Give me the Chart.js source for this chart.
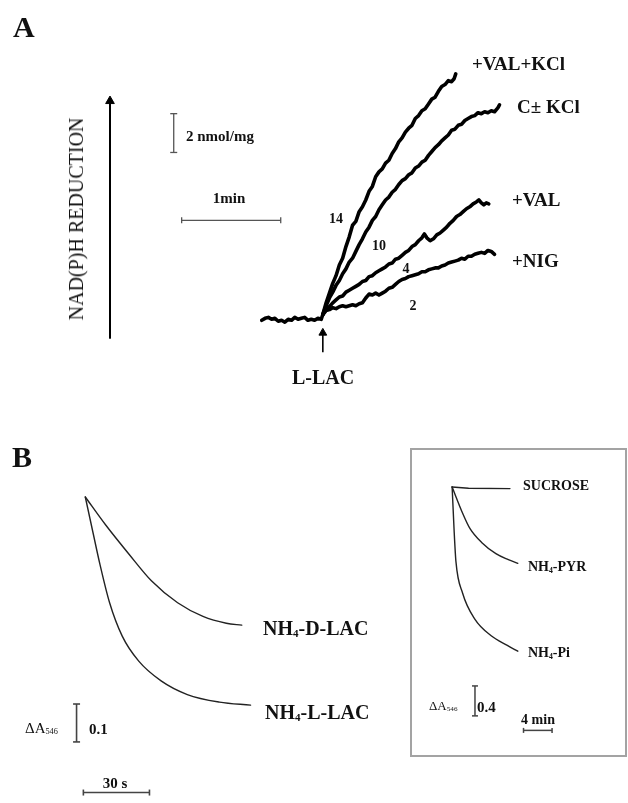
<!DOCTYPE html>
<html><head><meta charset="utf-8">
<script src="https://cdn.jsdelivr.net/npm/chart.js@4.4.1/dist/chart.umd.min.js"></script>
<style>
html,body{margin:0;padding:0;background:#fff;}
#wrap{position:relative;width:628px;height:803px;overflow:hidden;background:#fff;}
canvas{position:absolute;}
.l{position:absolute;font-family:"Liberation Serif","Times New Roman",serif;white-space:nowrap;line-height:1;color:#111;}
.b{font-weight:bold;}
.c{transform:translate(-50%,-50%);}
.m{transform:translateY(-50%);}
sub{font-size:0.55em;vertical-align:-0.2em;line-height:0;}
#box{position:absolute;left:410px;top:448px;width:213px;height:305px;border:2px solid #a3a3a3;}
</style></head><body><div id="wrap">
<div id="box"></div>
<canvas id="cA" width="628" height="400" style="left:0;top:0"></canvas>
<canvas id="cB" width="400" height="403" style="left:0;top:400px"></canvas>
<canvas id="cI" width="228" height="320" style="left:400px;top:440px"></canvas>

<!-- Panel A text -->
<div class="l b m" style="left:13px;top:27px;font-size:30px">A</div>
<div class="l" style="left:76px;top:219px;font-size:20px;transform:translate(-50%,-50%) rotate(-90deg)">NAD(P)H REDUCTION</div>
<div class="l b m" style="left:186px;top:136px;font-size:15px">2 nmol/mg</div>
<div class="l b c" style="left:229px;top:198px;font-size:15px">1min</div>
<div class="l b m" style="left:472px;top:63px;font-size:19px">+VAL+KCl</div>
<div class="l b m" style="left:517px;top:106px;font-size:19px">C± KCl</div>
<div class="l b m" style="left:512px;top:199px;font-size:19px">+VAL</div>
<div class="l b m" style="left:512px;top:260px;font-size:19px">+NIG</div>
<div class="l b c" style="left:336px;top:219px;font-size:14px">14</div>
<div class="l b c" style="left:379px;top:246px;font-size:14px">10</div>
<div class="l b c" style="left:406px;top:269px;font-size:14px">4</div>
<div class="l b c" style="left:413px;top:306px;font-size:14px">2</div>
<div class="l b c" style="left:323px;top:377px;font-size:20px">L-LAC</div>

<!-- Panel B text -->
<div class="l b m" style="left:12px;top:457px;font-size:30px">B</div>
<div class="l b m" style="left:263px;top:628px;font-size:20px">NH<sub>4</sub>-D-LAC</div>
<div class="l b m" style="left:265px;top:712px;font-size:20px">NH<sub>4</sub>-L-LAC</div>
<div class="l m" style="left:25px;top:728px;font-size:15px">ΔA<sub>546</sub></div>
<div class="l b m" style="left:89px;top:729px;font-size:15px">0.1</div>
<div class="l b c" style="left:115px;top:783px;font-size:15px">30 s</div>

<!-- Inset text -->
<div class="l b m" style="left:523px;top:486px;font-size:14px">SUCROSE</div>
<div class="l b m" style="left:528px;top:567px;font-size:14px">NH<sub>4</sub>-PYR</div>
<div class="l b m" style="left:528px;top:653px;font-size:14px">NH<sub>4</sub>-Pi</div>
<div class="l m" style="left:429px;top:705px;font-size:13px">ΔA<sub>546</sub></div>
<div class="l b m" style="left:477px;top:707px;font-size:15px">0.4</div>
<div class="l b c" style="left:538px;top:720px;font-size:14px">4 min</div>
</div>
<script>
// ---------- Panel A data: time (s, 0 = L-LAC addition), NAD(P)H reduction (nmol/mg) ----------
const baseT = [-37,-35,-33,-31,-29,-27,-25,-23,-21,-19,-17,-15,-13,-11,-9,-7,-5,-3,-1,0];
const baseV = [-0.2,-0.1,-0.05,-0.15,-0.1,-0.25,-0.2,-0.3,-0.15,-0.2,-0.05,-0.15,-0.1,-0.05,-0.2,-0.15,-0.2,-0.1,-0.15,0.1];

const valKclT = [0,2,4,6,8,10,12,14,16,18,20,22,24,26,28,30,32,34,36,38,40,42,44,46,48,50,52,54,56,58,60,62,64,66,68,70,72,74,76,78,79.5,80.5];
const valKclV = [0.1,0.7,1.2,1.7,2.1,2.65,3.0,3.6,4.1,4.7,4.9,5.4,5.65,6.0,6.45,6.7,7.2,7.45,7.6,7.9,8.05,8.4,8.65,9.0,9.2,9.5,9.7,9.85,10.2,10.35,10.6,10.7,10.95,11.2,11.3,11.6,11.85,11.95,12.15,12.1,12.25,12.5];

const cKclT = [0,2,4,6,8,10,12,14,16,18,20,22,24,26,28,30,32,34,36,38,40,42,44,46,48,50,52,54,56,58,60,62,64,66,68,70,72,74,76,78,80,82,84,86,88,90,92,94,96,98,100,102,104,106,107];
const cKclV = [0.1,0.55,0.95,1.25,1.6,1.85,2.2,2.45,2.8,3.0,3.35,3.7,4.0,4.35,4.6,4.95,5.15,5.5,5.75,6.0,6.15,6.4,6.55,6.8,7.0,7.1,7.3,7.4,7.65,7.75,7.95,8.05,8.3,8.5,8.7,8.85,9.05,9.2,9.35,9.6,9.65,9.85,9.9,10.1,10.2,10.3,10.35,10.5,10.45,10.55,10.5,10.6,10.55,10.75,10.9];

const valT = [0,2,4,6,8,10,12,14,16,18,20,22,24,26,28,30,32,34,36,38,40,42,44,46,48,50,52,54,56,58,60,61.5,63,65,67,69,71,73,75,77,79,81,83,85,87,89,91,93,94.5,96,97.5,99,100.5];
const valV = [0.1,0.35,0.5,0.7,0.85,1.0,1.05,1.25,1.35,1.45,1.55,1.65,1.8,1.85,2.05,2.1,2.25,2.35,2.45,2.55,2.7,2.75,2.95,3.0,3.15,3.3,3.4,3.6,3.7,3.9,4.05,4.25,4.05,3.9,4.0,4.2,4.3,4.45,4.6,4.8,4.95,5.15,5.25,5.4,5.55,5.65,5.8,5.9,6.0,5.85,5.75,5.85,5.8];

const nigT = [0,2,4,6,8,10,12,14,16,18,20,22,24,26,28,30,32,34,36,38,40,42,44,46,48,50,52,54,56,58,60,62,64,66,68,70,72,74,76,78,80,82,84,86,88,90,92,94,96,98,100,102,104];
const nigV = [0.1,0.3,0.35,0.45,0.4,0.5,0.55,0.5,0.55,0.6,0.55,0.65,0.7,0.95,1.15,1.1,1.2,1.1,1.2,1.3,1.45,1.5,1.65,1.8,1.9,1.95,2.05,2.1,2.15,2.2,2.3,2.3,2.4,2.45,2.5,2.5,2.6,2.65,2.75,2.8,2.85,2.9,3.0,2.95,3.1,3.1,3.2,3.25,3.3,3.25,3.4,3.35,3.2];

// ---------- Panel B data: time (s), ΔA546 ----------
const dLacT = [0,9.26,19.85,30.0,41.9,53.4,64.0,71.0];
const dLacV = [0,-0.074,-0.151,-0.221,-0.279,-0.315,-0.333,-0.338];
const lLacT = [0,3.53,6.62,11.03,16.76,24.26,34.4,46.3,60.9,75.0];
const lLacV = [0,-0.095,-0.177,-0.279,-0.367,-0.433,-0.485,-0.521,-0.541,-0.549];

// ---------- Inset data: time (min), ΔA546 ----------
const sucT = [0,2.3,8.1];
const sucV = [0,-0.017,-0.021];
const pyrT = [0,1.47,2.53,4.13,6.13,7.87,9.2];
const pyrV = [0,-0.35,-0.56,-0.74,-0.89,-0.97,-1.02];
const piT  = [0,0.27,0.53,1.47,3.2,5.47,7.73,9.2];
const piV  = [0,-0.568,-0.994,-1.419,-1.768,-1.987,-2.116,-2.194];

// ---------- helpers ----------
function xy(ts, vs){ const n=Math.min(ts.length,vs.length); const o=[]; for(let i=0;i<n;i++) o.push({x:ts[i],y:vs[i]}); return o; }
function trace(ts, vs, w, col, smooth){
  return {data:xy(ts,vs), borderColor:col, borderWidth:w, pointRadius:0, fill:false, clip:false,
    tension: smooth?0.4:0, cubicInterpolationMode: smooth?'monotone':'default',
    borderJoinStyle:'round', borderCapStyle:'round'};
}
function bar(p1, p2, horiz, cap, col, w){
  return {data:[p1,p2], borderColor:col, borderWidth:w, pointStyle:'line', pointRadius:cap,
    pointBorderColor:col, pointBorderWidth:w, pointRotation: horiz?90:0, fill:false, clip:false};
}
function arrow(p1, p2, head, col, w){
  return {data:[p1,p2], borderColor:col, borderWidth:w, pointStyle:'triangle', pointRadius:[0,head],
    pointBackgroundColor:col, pointBorderColor:col, pointBorderWidth:1, fill:false, clip:false};
}
function mk(id, xmin, xmax, ymin, ymax, datasets){
  return new Chart(document.getElementById(id), {
    type:'line',
    data:{datasets},
    options:{responsive:false, animation:false, events:[],
      layout:{padding:0},
      plugins:{legend:{display:false}, tooltip:{enabled:false}},
      scales:{x:{type:'linear',display:false,min:xmin,max:xmax},
              y:{type:'linear',display:false,min:ymin,max:ymax}}
    }});
}

// Panel A: 101 px per minute, 20 px per nmol/mg
mk('cA', -323*60/101, 305*60/101, -4, 16, [
  trace(baseT, baseV, 3.6, '#000'),
  trace(valKclT, valKclV, 3.6, '#000'),
  trace(cKclT, cKclV, 3.6, '#000'),
  trace(valT, valV, 3.6, '#000'),
  trace(nigT, nigV, 3.6, '#000'),
  bar({x:-90.3,y:8.45},{x:-90.3,y:10.45}, false, 3.5, '#555', 1.3),
  bar({x:-85.5,y:4.95},{x:-25.5,y:4.95}, true, 3, '#555', 1.3),
  arrow({x:-128.9,y:-1.15},{x:-128.9,y:11.1}, 5, '#000', 2),
  arrow({x:0,y:-1.85},{x:0,y:-0.85}, 4.5, '#000', 1.6)
]);

// Panel B: 68 px per 30 s, 390 px per 1 ΔA
mk('cB', -82*30/68, 318*30/68, -309/390, 94/390, [
  trace(dLacT, dLacV, 1.4, '#222', true),
  trace(lLacT, lLacV, 1.4, '#222', true),
  bar({x:-3.97,y:-0.546},{x:-3.97,y:-0.646}, false, 3.5, '#444', 1.6),
  bar({x:-0.88,y:-0.7795},{x:29.12,y:-0.7795}, true, 3, '#444', 1.6)
]);

// Inset: 7.5 px per min, 77.5 px per 1 ΔA
mk('cI', -49/7.5, 179/7.5, -277/77.5, 43/77.5, [
  trace(sucT, sucV, 1.4, '#222', false),
  trace(pyrT, pyrV, 1.4, '#222', true),
  trace(piT, piV, 1.4, '#222', true),
  bar({x:3.2,y:-2.658},{x:3.2,y:-3.058}, false, 3, '#444', 1.5),
  bar({x:10,y:-3.252},{x:14,y:-3.252}, true, 2.5, '#444', 1.5)
]);
</script>
</body></html>
